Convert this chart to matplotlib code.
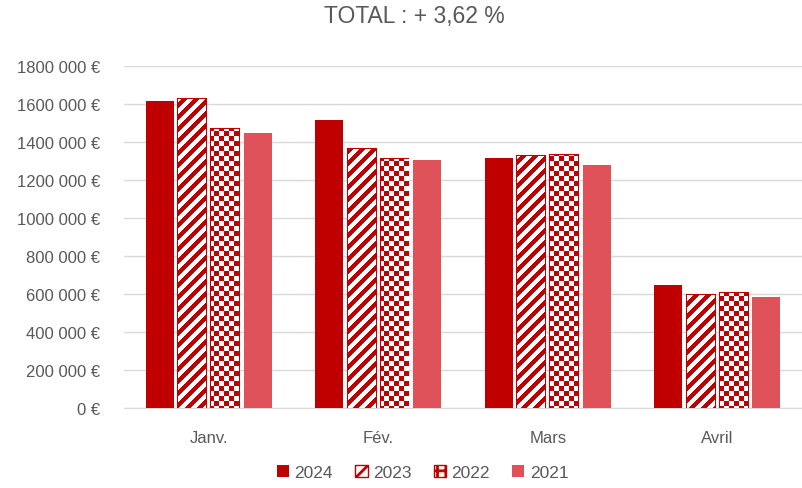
import numpy as np
import matplotlib
matplotlib.use('Agg')
import matplotlib.pyplot as plt
from matplotlib.patches import Patch

# données
mois = ['Janv.', 'Fév.', 'Mars', 'Avril']
annees = ['2024', '2023', '2022', '2021']
v2024 = [1616000, 1516000, 1316000, 647000]
v2023 = [1626000, 1363000, 1326000, 595000]
v2022 = [1468000, 1310000, 1332000, 605000]
v2021 = [1447000, 1305000, 1279000, 584000]
yticks = [0, 200000, 400000, 600000, 800000, 1000000, 1200000, 1400000, 1600000, 1800000]

rouge = '#C00000'
rouge_clair = '#E0525A'
gris = '#595959'

plt.rcParams['font.family'] = ['Liberation Sans', 'DejaVu Sans']

fig = plt.figure(figsize=(8.02, 4.89), dpi=100)
ax = fig.add_axes([0.1546, 0.164, 0.8454, 0.699])

x = np.arange(len(mois))
largeur = 0.165
pas = 0.192

b24 = ax.bar(x - 1.5 * pas, v2024, largeur, color=rouge, zorder=3)
b23 = ax.bar(x - 0.5 * pas, v2023, largeur, color='white', edgecolor=rouge, linewidth=1.5, zorder=3)
b22 = ax.bar(x + 0.5 * pas, v2022, largeur, color='white', edgecolor=rouge, linewidth=1.5, zorder=3)
b21 = ax.bar(x + 1.5 * pas, v2021, largeur, color=rouge_clair, zorder=3)

# motifs (rayures / damier) en pixels, découpés sur chaque barre
h, w = 342, 678
rr, cc = np.mgrid[0:h, 0:w]
rayures = ((cc + rr) // 6) % 2
damier = ((cc // 5) + (rr // 5)) % 2
cmap = matplotlib.colors.ListedColormap(['white', rouge])

for motif, barres in [(rayures, b23), (damier, b22)]:
    for b in barres:
        im = ax.imshow(motif, cmap=cmap, extent=(0, 1, 0, 1), transform=ax.transAxes,
                       interpolation='nearest', aspect='auto', zorder=3.5)
        im.set_clip_path(b)

ax.set_xlim(-0.5, len(mois) - 0.5)
ax.set_ylim(0, 1800000)
ax.set_xticks(x)
ax.set_xticklabels(mois, fontsize=12, color=gris)
ax.set_yticks(yticks)
ax.set_yticklabels([f'{v // 1000} 000 €' if v else '0 €' for v in yticks], fontsize=12, color=gris)
ax.tick_params(axis='x', length=0, pad=16)
ax.tick_params(axis='y', length=0, pad=17)
ax.grid(axis='y', color='#D9D9D9', linewidth=1, zorder=0)
for s in ['top', 'right', 'left']:
    ax.spines[s].set_visible(False)
ax.spines['bottom'].set_color('#D9D9D9')

fig.suptitle('TOTAL : + 3,62 %', fontsize=16.5, color=gris, x=0.517, y=0.99)

plt.rcParams['hatch.color'] = rouge
plt.rcParams['hatch.linewidth'] = 2
poignees = [Patch(facecolor=rouge),
            Patch(facecolor='white', edgecolor=rouge, hatch='//'),
            Patch(facecolor='white', edgecolor=rouge, hatch='++'),
            Patch(facecolor=rouge_clair)]
fig.legend(poignees, annees, loc='lower center', bbox_to_anchor=(0.527, -0.015), ncol=4,
           frameon=False, fontsize=12.5, labelcolor=gris, handlelength=0.7, handleheight=0.7,
           handletextpad=0.3, columnspacing=1.3)

fig.savefig('out.png', dpi=100)
